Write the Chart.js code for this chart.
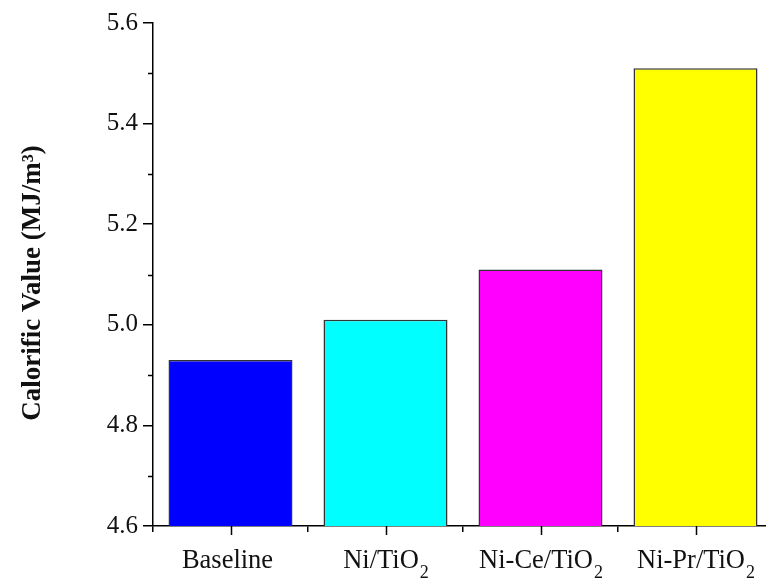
<!DOCTYPE html>
<html>
<head>
<meta charset="utf-8">
<script src="https://cdn.jsdelivr.net/npm/chart.js@4/dist/chart.umd.min.js"></script>
<style>
  html, body { margin: 0; padding: 0; overflow: hidden; background: #fff; width: 766px; height: 580px; }
  #wrap { position: absolute; left: 0; top: 0; width: 790px; height: 580px; }
</style>
</head>
<body>
<div id="wrap"><canvas id="c" width="790" height="580"></canvas></div>
<script>
const categories = ['Baseline', 'Ni/TiO₂', 'Ni-Ce/TiO₂', 'Ni-Pr/TiO₂'];
const calorificValues = [4.93, 5.01, 5.11, 5.51];
const barColors = ['#0000ff', '#00ffff', '#ff00ff', '#ffff00'];
const yMin = 4.6, yMax = 5.6, yStep = 0.2, yMinorStep = 0.1;
const yTitle = 'Calorific Value (MJ/m³)';

const serif = "'Liberation Serif', 'Times New Roman', serif";

const tickPlugin = {
  id: 'customTicks',
  afterDraw(chart) {
    const ctx = chart.ctx;
    const xs = chart.scales.x, ys = chart.scales.y;
    ctx.save();
    ctx.strokeStyle = '#000';
    ctx.lineWidth = 1.5;
    // y minor ticks
    const left = chart.chartArea.left;
    for (let v = yMin + yMinorStep; v < yMax; v += yStep) {
      const y = Math.round(ys.getPixelForValue(v)) + 0.5;
      ctx.beginPath();
      ctx.moveTo(left - 5, y);
      ctx.lineTo(left, y);
      ctx.stroke();
    }
    // x major ticks at category centres
    const bottom = chart.chartArea.bottom;
    categories.forEach((c, i) => {
      const x = Math.round(xs.getPixelForValue(i)) + 0.5;
      ctx.beginPath();
      ctx.moveTo(x, bottom);
      ctx.lineTo(x, bottom + 9);
      ctx.stroke();
    });
    // x labels with subscripts
    ctx.fillStyle = '#111';
    ctx.textBaseline = 'alphabetic';
    ctx.textAlign = 'left';
    const mainFont = "26.5px " + serif, subFont = "18px " + serif;
    categories.forEach((c, i) => {
      const x = xs.getPixelForValue(i);
      const parts = c.split('₂');
      const main = parts[0];
      const hasSub = parts.length > 1;
      ctx.font = mainFont;
      const wm = ctx.measureText(main).width;
      ctx.font = subFont;
      const ws = hasSub ? ctx.measureText('2').width : 0;
      const start = x - (wm + ws) / 2 - (hasSub ? 0 : 3);
      ctx.font = mainFont;
      ctx.fillText(main, start, bottom + 42);
      if (hasSub) {
        ctx.font = subFont;
        ctx.fillText('2', start + wm + 1, bottom + 52);
      }
    });
    // y axis title
    ctx.save();
    ctx.translate(33, 283);
    ctx.rotate(-Math.PI / 2);
    ctx.textAlign = 'center';
    ctx.textBaseline = 'middle';
    ctx.font = "bold 27px " + serif;
    ctx.fillText(yTitle, 0, 0);
    ctx.restore();
    ctx.restore();
  }
};

new Chart(document.getElementById('c'), {
  type: 'bar',
  data: {
    labels: categories,
    datasets: [{
      data: calorificValues,
      backgroundColor: barColors,
      borderColor: '#333333',
      borderWidth: 1.5,
      borderSkipped: false,
      barPercentage: 0.8,
      categoryPercentage: 1.0
    }]
  },
  options: {
    responsive: false,
    devicePixelRatio: 1,
    animation: false,
    layout: { padding: { top: 23, right: 17, bottom: 0, left: 0 } },
    plugins: { legend: { display: false }, tooltip: { enabled: false } },
    scales: {
      x: {
        type: 'category',
        offset: true,
        grid: { display: true, drawOnChartArea: false, drawTicks: true, tickLength: 6, offset: true, color: '#000', lineWidth: 1.5 },
        border: { display: true, color: '#000', width: 1.5 },
        ticks: { display: false },
        afterFit(scale) { scale.height = 54; }
      },
      y: {
        min: yMin,
        max: yMax,
        grid: { display: true, drawOnChartArea: false, drawTicks: true, tickLength: 10, color: '#000', lineWidth: 1.5 },
        border: { display: true, color: '#000', width: 1.5 },
        ticks: {
          stepSize: yStep,
          padding: 5,
          color: '#111',
          font: { family: serif, size: 25 },
          callback: (v) => Number(v).toFixed(1)
        },
        title: { display: false },
        afterFit(scale) { scale.width = 153; }
      }
    }
  },
  plugins: [tickPlugin]
});
</script>
</body>
</html>
